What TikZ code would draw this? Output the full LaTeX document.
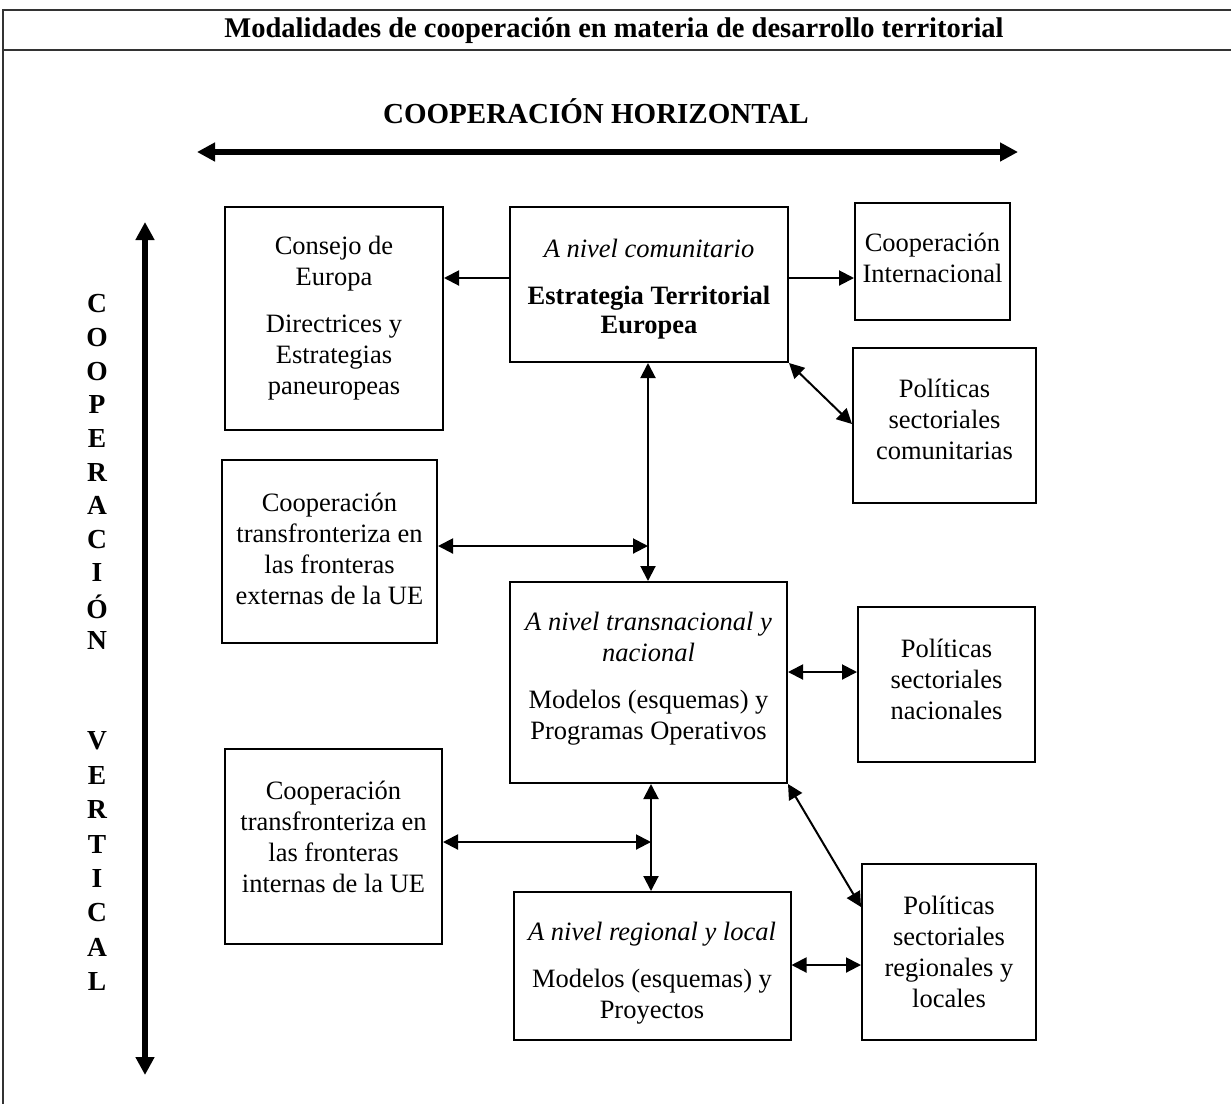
\documentclass[tikz,border=0pt]{standalone}
\usepackage{fontspec}
\setmainfont{Liberation Serif}
\usetikzlibrary{arrows.meta}
\begin{document}
\begin{tikzpicture}[x=1pt,y=-1pt,
  box/.style={draw,line width=2pt,inner sep=0pt},
  txt/.style={align=center,inner sep=0pt,font=\fontsize{26.5}{31}\selectfont},
  link/.style={line width=2pt,{Triangle[length=15pt,width=15pt]}-{Triangle[length=15pt,width=15pt]}},
  linkone/.style={line width=2pt,-{Triangle[length=15pt,width=15pt]}},
  bigarrow/.style={line width=5.5pt,{Triangle[length=18pt,width=18pt]}-{Triangle[length=18pt,width=18pt]}},
  frame/.style={line width=2pt,draw=black!80},
  vlet/.style={font=\fontsize{27.5}{27.5}\selectfont\bfseries,inner sep=0pt}
]
\useasboundingbox (0,0) rectangle (1231,1104);
\fill[white] (0,0) rectangle (1231,1104);
% frame
\coordinate (ftl) at (3,10);
\coordinate (ftr) at (1231,10);
\coordinate (fsl) at (3,50);
\coordinate (fsr) at (1231,50);
\coordinate (fbl) at (3,1104);
\draw[frame] (ftr) -- (ftl) -- (fbl);
\draw[frame] (fsl) -- (fsr);
\node[font=\fontsize{28.5}{28.5}\selectfont\bfseries] (title) at (614,31) {Modalidades de cooperación en materia de desarrollo territorial};
\node[font=\fontsize{29}{29}\selectfont\bfseries] (horiz) at (596,111) {COOPERACIÓN HORIZONTAL};
% big arrows
\coordinate (hl) at (197,152);
\coordinate (hr) at (1018,152);
\draw[bigarrow] (hl) -- (hr);
\coordinate (vt) at (145,222);
\coordinate (vb) at (145,1075);
\draw[bigarrow] (vt) -- (vb);
% vertical letters
\foreach \l [count=\i from 0] in {C,O,O,P,E,R,A,C,I,Ó,N}
  \node[vlet] (vc\i) at (97,{304+33.6*\i}) {\l};
\foreach \l [count=\i from 0] in {V,E,R,T,I,C,A,L}
  \node[vlet] (vv\i) at (97,{741+34.4*\i}) {\l};
% boxes
\node[box,minimum width=218pt,minimum height=223pt] (consejo) at (334,318.5) {};
\node[txt] (consejoT) at (consejo.center)
  {Consejo de\\Europa\\[16pt]Directrices y\\Estrategias\\paneuropeas};
\node[box,minimum width=278pt,minimum height=155pt] (comun) at (649,284.5) {};
\node[txt] (comunT) at ([yshift=-5pt]comun.center)
  {\textit{A nivel comunitario}\\[16pt]\textbf{Estrategia Territorial}\\[-2pt]\textbf{Europea}};
\node[box,minimum width=155pt,minimum height=117pt] (intern) at (932.5,261.5) {};
\node[txt] (internT) at ([yshift=4pt]intern.center)
  {Cooperación\\Internacional};
\node[box,minimum width=183pt,minimum height=155pt] (pcom) at (944.5,425.5) {};
\node[txt] (pcomT) at ([yshift=6pt]pcom.center)
  {Políticas\\sectoriales\\comunitarias};
\node[box,minimum width=215pt,minimum height=183pt] (ext) at (329.5,551.5) {};
\node[txt] (extT) at ([yshift=3pt]ext.center)
  {Cooperación\\transfronteriza en\\las fronteras\\externas de la UE};
\node[box,minimum width=277pt,minimum height=201pt] (trans) at (648.5,682.5) {};
\node[txt] (transT) at ([yshift=4pt]trans.center)
  {\textit{A nivel transnacional y}\\\textit{nacional}\\[16pt]Modelos (esquemas) y\\Programas Operativos};
\node[box,minimum width=177pt,minimum height=155pt] (pnac) at (946.5,684.5) {};
\node[txt] (pnacT) at ([yshift=5pt]pnac.center)
  {Políticas\\sectoriales\\nacionales};
\node[box,minimum width=217pt,minimum height=195pt] (inte) at (333.5,846.5) {};
\node[txt] (inteT) at ([yshift=10pt]inte.center)
  {Cooperación\\transfronteriza en\\las fronteras\\internas de la UE};
\node[box,minimum width=277pt,minimum height=148pt] (reg) at (652,966) {};
\node[txt] (regT) at ([yshift=-7pt]reg.center)
  {\textit{A nivel regional y local}\\[16pt]Modelos (esquemas) y\\Proyectos};
\node[box,minimum width=174pt,minimum height=176pt] (preg) at (949,952) {};
\node[txt] (pregT) at (preg.center)
  {Políticas\\sectoriales\\regionales y\\locales};
% connectors
\coordinate (j1) at (648,546);
\coordinate (j2) at (651,842);
\draw[linkone] (comun.west |- 0,278) -- (consejo.east |- 0,278);
\draw[linkone] (comun.east |- 0,278) -- (intern.west |- 0,278);
\draw[link] (comun.south east) -- (pcom.west |- 0,424);
\draw[link] (j1 |- comun.south) -- (j1 |- trans.north);
\draw[link] (ext.east |- j1) -- (j1);
\draw[link] (trans.east |- 0,672) -- (pnac.west |- 0,672);
\draw[link] (j2 |- trans.south) -- (j2 |- reg.north);
\draw[link] (inte.east |- j2) -- (j2);
\draw[link] (trans.south east) -- (preg.west |- 0,907);
\draw[link] (reg.east |- 0,965) -- (preg.west |- 0,965);
\end{tikzpicture}
\end{document}
